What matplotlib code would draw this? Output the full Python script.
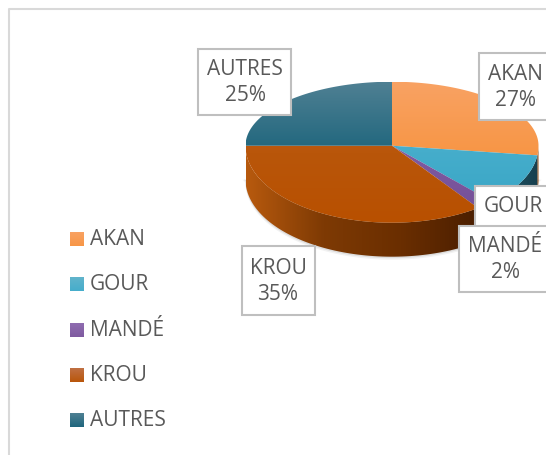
import numpy as np
import matplotlib.pyplot as plt
from matplotlib.colors import to_rgb
from matplotlib.patches import Polygon, Rectangle

plt.rcParams['font.family'] = ['Open Sans', 'DejaVu Sans']

names = ['AKAN', 'GOUR', 'MANDÉ', 'KROU', 'AUTRES']
shares = [27, 11, 2, 35, 25]

# top face gradient (top, middle, bottom of the pie)
top_colors = [
    ['#F9A263', '#F79646', '#E5852C'],
    ['#62B4CC', '#45ADCB', '#35A3C4'],
    ['#8F6DB0', '#7F5AA0', '#734E96'],
    ['#C07044', '#B9560A', '#B85000'],
    ['#4F8093', '#1F667D', '#1A5A70'],
]
# side wall gradient (left to right)
side_colors = [
    ['#A85A1E', '#8A4A14'],
    ['#205A6C', '#173F4E'],
    ['#4B2F66', '#3C2552'],
    ['#B85A0E', '#7E3A04', '#6A2E00', '#4A1E00'],
    ['#1A5A70', '#123E4E'],
]

# pie geometry in image pixels
cx, cy = 392, 146
rx = 146.5
ry_back, ry_front = 64, 77
depth = 34


def rim(theta):
    # theta in degrees, clockwise from 12 o'clock
    t = np.radians(theta)
    ry = np.where(np.cos(t) > 0, ry_back, ry_front)
    return cx + rx * np.sin(t), cy - ry * np.cos(t)


def gradient(ax, poly, stops, horizontal=False, extent=None):
    rgb = np.array([to_rgb(c) for c in stops])
    pos = np.linspace(0, 1, len(stops))
    s = np.linspace(0, 1, 256)
    g = np.stack([np.interp(s, pos, rgb[:, i]) for i in range(3)], axis=-1)
    img = g[np.newaxis, :, :] if horizontal else g[:, np.newaxis, :]
    im = ax.imshow(img, extent=extent, origin='upper', aspect='auto',
                   zorder=poly.get_zorder(), interpolation='bilinear')
    ax.add_patch(poly)
    im.set_clip_path(poly)


fig = plt.figure(figsize=(5.46, 4.56), dpi=100)
ax = fig.add_axes([0, 0, 1, 1])

edges = np.concatenate([[0], np.cumsum(shares)]) * 3.6

# soft shadow under the pie
th = np.linspace(90, 270, 120)
x, y = rim(th)
for grow, alpha in [(3, 0.10), (1.5, 0.18)]:
    ax.add_patch(Polygon(np.column_stack([np.r_[cx + rx + grow, x, cx - rx - grow],
                                          np.r_[cy + depth, y + depth + grow, cy + depth]]),
                         fc='#808080', ec='none', alpha=alpha, zorder=1))

# side walls
for i in range(len(shares)):
    a, b = max(edges[i], 90), min(edges[i + 1], 270)
    if a >= b:
        continue
    th = np.linspace(a, b, 80)
    x, y = rim(th)
    pts = np.column_stack([np.r_[x, x[::-1]], np.r_[y, y[::-1] + depth]])
    gradient(ax, Polygon(pts, fc='none', ec='none', zorder=2), side_colors[i],
             horizontal=True, extent=(x.min(), x.max(), y.max() + depth, y.min()))

# top faces
for i in range(len(shares)):
    th = np.linspace(edges[i], edges[i + 1], 120)
    x, y = rim(th)
    pts = np.column_stack([np.r_[cx, x], np.r_[cy, y]])
    gradient(ax, Polygon(pts, fc='none', ec='none', zorder=3), top_colors[i],
             extent=(cx - rx, cx + rx, cy + ry_front, cy - ry_back))

# chart frame
ax.plot([9, 9, 546], [456, 9, 9], color='#D9D9D9', lw=1.5, zorder=1)

# data label boxes, drawn in this order so MANDÉ covers the GOUR box
label_order = ['AUTRES', 'AKAN', 'GOUR', 'MANDÉ', 'KROU']
label_boxes = {
    'AUTRES': (198, 49, 93, 66),
    'AKAN': (479, 53, 72, 67),
    'GOUR': (475, 186, 75, 50),
    'MANDÉ': (459, 226, 92, 66),
    'KROU': (242, 246, 73, 69),
}
label_x = {'AUTRES': 245, 'AKAN': 515, 'MANDÉ': 505, 'KROU': 278}
for k, name in enumerate(label_order):
    bx, by, bw, bh = label_boxes[name]
    z = 5 + k
    ax.add_patch(Rectangle((bx, by), bw, bh, fc='white', ec='#BFBFBF', lw=1.5, zorder=z))
    if name == 'GOUR':
        ax.text(513, 206, name, ha='center', va='center', fontsize=15,
                color='#595959', zorder=z)
    else:
        ax.text(label_x[name], by + bh / 2, f'{name}\n{shares[names.index(name)]}%',
                ha='center', va='center', fontsize=15, color='#595959',
                linespacing=1.33, zorder=z)

# legend
legend_y = [239, 284, 330, 375, 420]
for i, name in enumerate(names):
    ly = legend_y[i]
    gradient(ax, Rectangle((70, ly - 7), 14, 14, fc='none', ec='none', zorder=4), top_colors[i][:2],
             extent=(70, 84, ly + 7, ly - 7))
    ax.text(90, ly, name, ha='left', va='center', fontsize=15, color='#595959', zorder=4)

ax.set_xlim(0, 546)
ax.set_ylim(455.3, -0.7)
ax.axis('off')

fig.savefig('out.png', dpi=100)
